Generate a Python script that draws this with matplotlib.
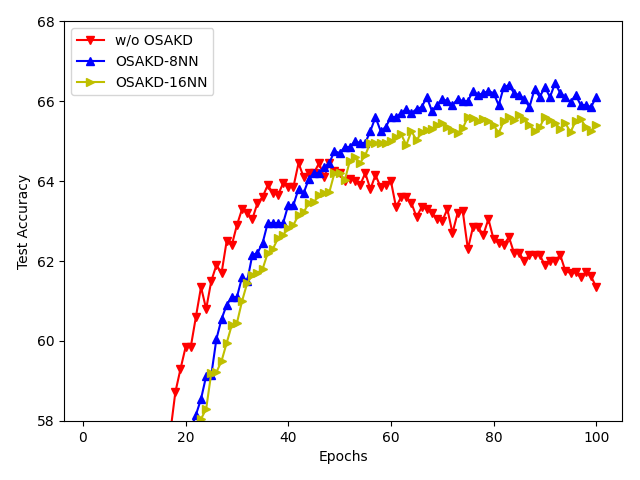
import matplotlib
matplotlib.use('Agg')
import matplotlib.pyplot as plt

# epochs 17..100 (w/o OSAKD), 21..100 (8NN), 22..100 (16NN); first value sits below the visible range
red_start = 17
red_acc = [57.7, 58.72, 59.3, 59.85, 59.85, 60.6, 61.35, 60.8, 61.5, 61.9,
           61.7, 62.5, 62.4, 62.9, 63.3, 63.2, 63.05, 63.45, 63.6, 63.9,
           63.7, 63.65, 63.95, 63.85, 63.85, 64.45, 64.1, 64.2, 64.2, 64.45,
           64.1, 64.45, 64.25, 64.2, 64.0, 64.05, 64.0, 63.9, 64.2, 63.8,
           64.15, 63.85, 63.9, 64.0, 63.35, 63.6, 63.6, 63.45, 63.1, 63.35,
           63.3, 63.2, 63.05, 63.0, 63.3, 62.7, 63.2, 63.25, 62.3, 62.85,
           62.85, 62.65, 63.05, 62.55, 62.45, 62.4, 62.6, 62.2, 62.2, 62.0,
           62.15, 62.15, 62.15, 61.9, 62.0, 62.0, 62.15, 61.75, 61.7, 61.72,
           61.6, 61.72, 61.62, 61.35]

blue_start = 21
blue_acc = [57.8, 58.15, 58.55, 59.12, 59.15, 60.05, 60.55, 60.9, 61.1, 61.1,
            61.6, 61.5, 62.15, 62.2, 62.45, 62.95, 62.95, 62.95, 62.95, 63.4,
            63.4, 63.8, 63.7, 64.05, 64.2, 64.2, 64.35, 64.45, 64.75, 64.7,
            64.85, 64.85, 65.0, 64.95, 64.95, 65.25, 65.6, 65.25, 65.35, 65.6,
            65.6, 65.7, 65.8, 65.7, 65.8, 65.85, 66.1, 65.75, 65.9, 66.05,
            66.0, 65.9, 66.05, 66.0, 66.0, 66.25, 66.15, 66.2, 66.25, 66.2,
            65.9, 66.35, 66.4, 66.2, 66.15, 66.05, 65.85, 66.3, 66.1, 66.35,
            66.1, 66.45, 66.2, 66.1, 65.97, 66.15, 65.9, 65.9, 65.85, 66.1]

yellow_start = 22
yellow_acc = [57.9, 58.05, 58.3, 59.2, 59.22, 59.5, 59.95, 60.4, 60.45, 61.0,
              61.45, 61.65, 61.7, 61.8, 62.2, 62.3, 62.57, 62.65, 62.82, 62.9,
              63.15, 63.22, 63.45, 63.47, 63.65, 63.7, 63.72, 64.2, 64.2, 64.02,
              64.5, 64.6, 64.45, 64.65, 64.95, 64.95, 64.95, 64.95, 65.0, 65.1,
              65.17, 64.9, 65.25, 65.02, 65.22, 65.27, 65.3, 65.4, 65.45, 65.35,
              65.27, 65.2, 65.32, 65.6, 65.57, 65.5, 65.55, 65.5, 65.4, 65.2,
              65.5, 65.6, 65.52, 65.65, 65.55, 65.4, 65.25, 65.35, 65.6, 65.52,
              65.45, 65.3, 65.45, 65.22, 65.5, 65.55, 65.35, 65.25, 65.4]

red_x = list(range(red_start, red_start + len(red_acc)))
blue_x = list(range(blue_start, blue_start + len(blue_acc)))
yellow_x = list(range(yellow_start, yellow_start + len(yellow_acc)))

fig, ax = plt.subplots(figsize=(6.4, 4.8), dpi=100)
ax.plot(red_x, red_acc, c='r', marker='v', label='w/o OSAKD')
ax.plot(blue_x, blue_acc, c='b', marker='^', label='OSAKD-8NN')
ax.plot(yellow_x, yellow_acc, c='y', marker='>', label='OSAKD-16NN')

ax.set_xlim(-3.7, 105.05)
ax.set_ylim(58, 68)
ax.set_xlabel('Epochs')
ax.set_ylabel('Test Accuracy')
ax.legend(loc='upper left')
fig.subplots_adjust(left=0.1, right=0.972, top=0.956, bottom=0.123)
plt.savefig('out.png')
